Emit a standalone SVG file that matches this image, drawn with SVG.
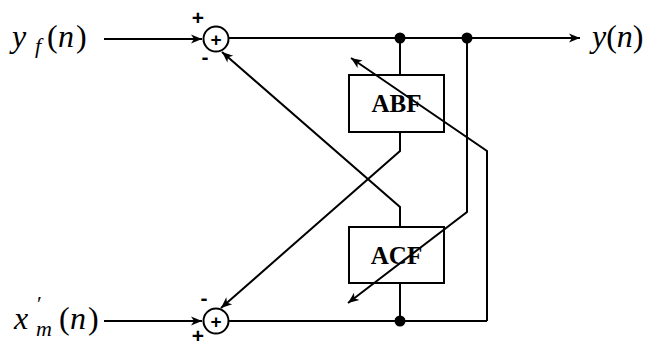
<svg xmlns="http://www.w3.org/2000/svg" width="652" height="347" viewBox="0 0 652 347">
<defs>
<marker id="arr" markerWidth="14" markerHeight="10" viewBox="-12 -5 14 10" refX="0" refY="0" orient="auto" markerUnits="userSpaceOnUse">
<path d="M0,0 L-11,-4.5 L-8,0 L-11,4.5 Z" fill="#000"/>
</marker>
<style>
.ln{stroke:#000;stroke-width:2;fill:none}
.box{stroke:#000;stroke-width:2;fill:#fff}
.sum{stroke:#000;stroke-width:2;fill:#fff}
.dot{fill:#000}
.math{font-family:"Liberation Serif","DejaVu Serif",serif;font-size:32px}
.lbl{font-family:"Liberation Serif","DejaVu Serif",serif;font-size:25px;font-weight:bold;text-anchor:middle}
.sign{font-family:"Liberation Sans","DejaVu Sans",sans-serif;font-size:21px;font-weight:bold;text-anchor:middle}
.plus{font-family:"Liberation Sans","DejaVu Sans",sans-serif;font-size:19px;font-weight:bold;text-anchor:middle}
</style>
</defs>
<g id="abf">
<rect class="box" x="349" y="75" width="95" height="57"/>
<text class="lbl" x="396.5" y="112">ABF</text>
</g>
<g id="acf">
<rect class="box" x="349" y="227" width="95" height="56"/>
<text class="lbl" x="396.5" y="264">ACF</text>
</g>
<g id="connectors">
<line class="ln" x1="104" y1="39" x2="202" y2="39" marker-end="url(#arr)"/>
<line class="ln" x1="229" y1="38" x2="580" y2="38" marker-end="url(#arr)"/>
<line class="ln" x1="104" y1="321" x2="202" y2="321" marker-end="url(#arr)"/>
<line class="ln" x1="229" y1="321" x2="487" y2="321"/>
<polyline class="ln" points="400,38 400,75"/>
<polyline class="ln" points="400,132 400,151 221,308" marker-end="url(#arr)"/>
<polyline class="ln" points="400,227 400,207 222,52" marker-end="url(#arr)"/>
<polyline class="ln" points="400,283 400,321"/>
<polyline class="ln" points="467,38 467,212 348,303" marker-end="url(#arr)"/>
<polyline class="ln" points="487,321 487,151 351,58" marker-end="url(#arr)"/>
<circle class="dot" cx="400" cy="38" r="5.5"/>
<circle class="dot" cx="467" cy="38" r="5.5"/>
<circle class="dot" cx="400" cy="321" r="5.5"/>
</g>
<g id="sum-top">
<circle class="sum" cx="216" cy="39" r="12.5"/>
<text class="plus" x="216" y="46">+</text>
<text class="sign" x="198" y="25">+</text>
<text class="sign" x="205" y="64">-</text>
</g>
<g id="sum-bottom">
<circle class="sum" cx="216" cy="321" r="12.5"/>
<text class="plus" x="216" y="328">+</text>
<text class="sign" x="204" y="305">-</text>
<text class="sign" x="198" y="343" font-size="18">+</text>
</g>
<g id="input-yf">
<text class="math" y="47"><tspan x="12" font-style="italic">y</tspan><tspan x="35" font-style="italic" font-size="22" y="53">f</tspan><tspan x="47" y="47">(</tspan><tspan x="58" font-style="italic">n</tspan><tspan x="76">)</tspan></text>
</g>
<g id="input-xm">
<text class="math" y="329"><tspan x="14" font-style="italic">x</tspan><tspan x="37" font-size="22" y="311">′</tspan><tspan x="36" font-style="italic" font-size="22" y="336">m</tspan><tspan x="59" y="329">(</tspan><tspan x="70" font-style="italic">n</tspan><tspan x="88">)</tspan></text>
</g>
<g id="output-y">
<text class="math" x="592" y="47"><tspan font-style="italic">y</tspan><tspan>(</tspan><tspan font-style="italic">n</tspan><tspan>)</tspan></text>
</g>
</svg>
